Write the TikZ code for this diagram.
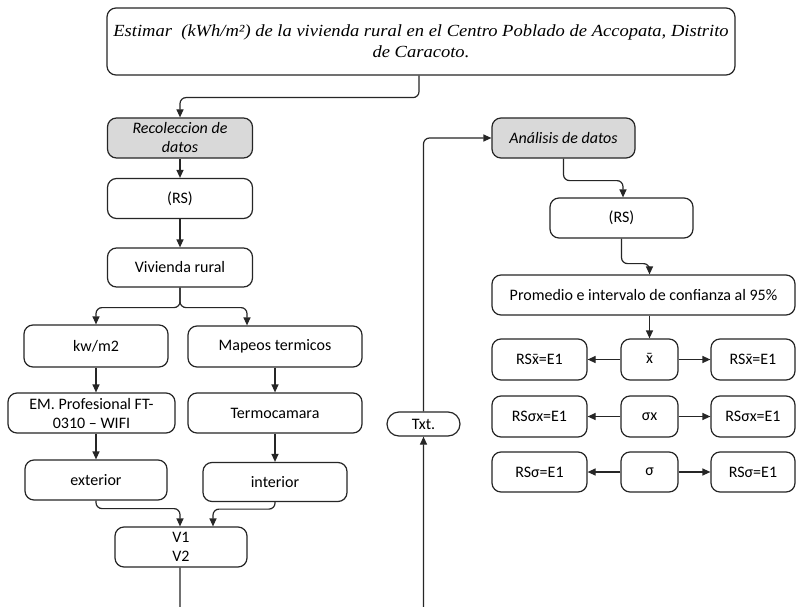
\documentclass[tikz,border=0pt]{standalone}
\usepackage{fontspec}
\setmainfont{Liberation Serif}
\newfontfamily\calfont{Carlito}
\usetikzlibrary{arrows.meta}

\definecolor{inkline}{HTML}{262626}
\definecolor{headfill}{HTML}{D9D9D9}

\newcommand{\goalfont}{\fontspec{Liberation Serif}[FakeStretch=1.09]\itshape\fontsize{17}{21}\selectfont}
\newcommand{\boxfont}{\calfont\fontsize{16}{19}\selectfont}
\newcommand{\headfont}{\calfont\itshape\fontsize{16}{19}\selectfont}
% x with a bar over it, built from the macron sign of the box font
\newcommand{\xmean}{\leavevmode\hbox{\ooalign{x\cr\hidewidth\raisebox{0.02em}{\char"00AF}\hidewidth\cr}}}

\tikzset{
  box/.style={draw=inkline, line width=1.2pt, rounded corners=9pt, inner sep=0pt,
              align=center, font=\boxfont, text=black},
  headbox/.style={box, fill=headfill, font=\headfont},
  conn/.style={draw=inkline, line width=1.2pt, rounded corners=6pt,
               -{Triangle[length=8pt,width=7pt]}},
}

\begin{document}
\begin{tikzpicture}[x=1pt,y=-1pt]
\path[use as bounding box, clip] (0,0) rectangle (800,607);
\fill[white] (0,0) rectangle (800,607);

% objective
\node[box, font=\goalfont, minimum width=628pt, minimum height=67pt] (goal) at (421,41.5)
  {Estimar\ \ (kWh/m²) de la vivienda rural en el Centro Poblado de Accopata, Distrito\\de Caracoto.};

% data collection branch
\node[headbox, minimum width=145pt, minimum height=40pt] (rec) at (180,138) {Recoleccion de\\datos};
\node[box, minimum width=145pt, minimum height=40pt] (rsa) at (180,198.5) {(RS)};
\node[box, minimum width=145pt, minimum height=39pt] (viv) at (180,267.5) {Vivienda rural};

\node[box, minimum width=144pt, minimum height=42pt] (kw) at (96,346) {kw/m2};
\node[box, minimum width=174pt, minimum height=41pt] (map) at (275,346.5) {Mapeos termicos};
\node[box, minimum width=167pt, minimum height=40pt] (em) at (91.5,413) {EM. Profesional FT-\\0310 – WIFI};
\node[box, minimum width=174pt, minimum height=40pt] (termo) at (275,413) {Termocamara};
\node[box, minimum width=142pt, minimum height=40pt] (ext) at (96,480) {exterior};
\node[box, minimum width=144pt, minimum height=39pt] (int) at (275,482) {interior};
\node[box, minimum width=132pt, minimum height=40pt] (vv) at (181,547) {V1\\V2};

% text output on the return path
\node[box, rounded corners=12pt, minimum width=73pt, minimum height=24pt] (txt) at (423.5,424) {Txt.};

% analysis branch
\node[headbox, minimum width=143pt, minimum height=40pt] (ana) at (563.5,138) {Análisis de datos};
\node[box, minimum width=143pt, minimum height=40pt] (rsb) at (621.5,218) {(RS)};
\node[box, minimum width=303pt, minimum height=40pt] (prom) at (643.5,295) {Promedio e intervalo de confianza al 95\%};

\node[box, minimum width=57pt, minimum height=41pt] (mx) at (649.5,359.5) {\xmean};
\node[box, minimum width=95pt, minimum height=41pt] (mxl) at (539.5,359.5) {RS\xmean=E1};
\node[box, minimum width=84pt, minimum height=41pt] (mxr) at (753,359.5) {RS\xmean=E1};

\node[box, minimum width=57pt, minimum height=41pt] (sx) at (649.5,416.5) {σx};
\node[box, minimum width=95pt, minimum height=41pt] (sxl) at (539.5,416.5) {RSσx=E1};
\node[box, minimum width=84pt, minimum height=41pt] (sxr) at (753,416.5) {RSσx=E1};

\node[box, minimum width=57pt, minimum height=40pt] (sg) at (649.5,472) {σ};
\node[box, minimum width=95pt, minimum height=40pt] (sgl) at (539.5,472) {RSσ=E1};
\node[box, minimum width=84pt, minimum height=40pt] (sgr) at (753,472) {RSσ=E1};

% connectors, collection branch
\draw[conn] ([xshift=-2pt]goal.south) -- ++(0,22) -| (rec.north);
\draw[conn] (rec) -- (rsa);
\draw[conn] (rsa) -- (viv);
\draw[conn] (viv.south) -- ++(0,20) -| (kw.north);
\draw[conn] (viv.south) -- ++(0,20) -| ([xshift=-28pt]map.north);
\draw[conn] (kw.south) -- (kw.south |- em.north);
\draw[conn] (map) -- (termo);
\draw[conn] (em.south -| kw.south) -- (ext.north);
\draw[conn] (termo) -- (int);
\draw[conn] (ext.south) -- ++(0,8) -| ([xshift=-1pt]vv.north);
\draw[conn] (int.south) -- ++(0,7) -| ([xshift=32pt]vv.north);

% return path through the text output to the analysis
\draw[conn] ([xshift=-1pt]vv.south) -- ++(0,50) -| (txt.south);
\draw[conn] (txt.north) |- (ana.west);

% connectors, analysis branch
\draw[conn] (ana.south) -- ++(0,22) -| ([xshift=1.5pt]rsb.north);
\draw[conn] (rsb.south) -- ++(0,25) -| (prom.north -| mx.north);
\draw[conn] (prom.south -| mx.north) -- (mx.north);
\draw[conn] (mx.west) -- (mxl.east);
\draw[conn] (mx.east) -- (mxr.west);
\draw[conn] (sx.west) -- (sxl.east);
\draw[conn] (sx.east) -- (sxr.west);
\draw[conn] (sg.west) -- (sgl.east);
\draw[conn] (sg.east) -- (sgr.west);
\end{tikzpicture}
\end{document}
